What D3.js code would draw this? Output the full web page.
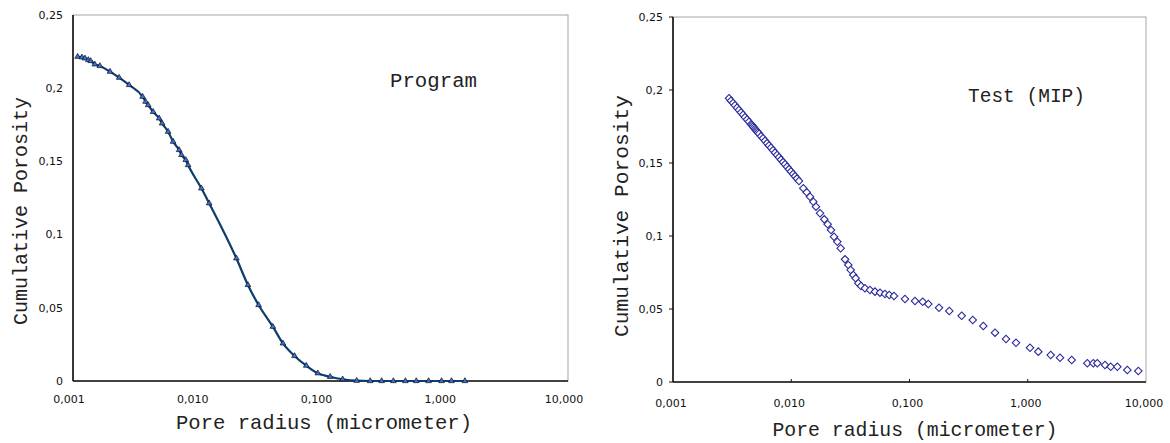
<!DOCTYPE html>
<html>
<head>
<meta charset="utf-8">
<style>
    body { margin: 0; background: #fff; }
    .tick-label { font-family: 'DejaVu Sans', sans-serif; font-size: 11px; fill: #111; }
    .title { font-family: 'Liberation Mono', monospace; fill: #222; }
    .frame { fill: none; stroke: #a6a6a6; stroke-width: 1; }
    .axis-line { stroke: #111; stroke-width: 1.6; }
    .program-line { fill: none; stroke: #0d3d6b; stroke-width: 2.2; }
</style>
</head>
<body>
<svg id="chart" width="1170" height="443"></svg>
<script src="https://cdn.jsdelivr.net/npm/d3@7"></script>
<script>
    // Left panel: "Program" (triangles + line)
    const programRadius = [0.00109, 0.00118, 0.00125, 0.00133, 0.00139, 0.00150, 0.00165, 0.00199, 0.00236,
        0.00284, 0.00365, 0.00386, 0.00405, 0.00444, 0.00497, 0.00525, 0.00587, 0.00644, 0.00720, 0.00753,
        0.00815, 0.00851, 0.0109, 0.0126, 0.0209, 0.0259, 0.0316, 0.0412, 0.0497, 0.0617, 0.0767, 0.0951,
        0.1197, 0.151, 0.196, 0.252, 0.312, 0.388, 0.485, 0.594, 0.747, 0.951, 1.145, 1.469];
    const programPorosity = [0.2215, 0.2211, 0.2204, 0.2193, 0.2186, 0.2163, 0.2152, 0.2113, 0.2072,
        0.2022, 0.1942, 0.1908, 0.1885, 0.1839, 0.1794, 0.1760, 0.1703, 0.1635, 0.1578, 0.1544,
        0.1510, 0.1475, 0.1316, 0.1214, 0.0838, 0.0656, 0.0519, 0.0371, 0.0257, 0.0171, 0.0105, 0.0053,
        0.0029, 0.0012, 0.0002, 0, 0, 0, 0, 0, 0, 0, 0, 0];

    // Right panel: "Test (MIP)" (open diamonds)
    const testRadius = [0.00298, 0.00309, 0.00322, 0.00334, 0.00348, 0.00361, 0.00376, 0.00391, 0.00406,
        0.00423, 0.00439, 0.00457, 0.00466, 0.00475, 0.00484, 0.00494, 0.00503, 0.00513, 0.00523, 0.00534,
        0.00555, 0.00577, 0.00600, 0.00624, 0.00648, 0.00674, 0.00701, 0.00729, 0.00758, 0.00788, 0.00819,
        0.00852, 0.00885, 0.00921, 0.00957, 0.00995, 0.01035, 0.01076, 0.01118, 0.01163,
        0.01264, 0.01351, 0.01441, 0.01537, 0.01619, 0.01751, 0.01903, 0.02033, 0.02169, 0.02299, 0.02452,
        0.02619, 0.02849, 0.03038, 0.03182, 0.03347, 0.03508, 0.0369, 0.03889, 0.04204, 0.04634, 0.05108,
        0.05631, 0.06206, 0.06748, 0.07394, 0.0916, 0.1113, 0.1293, 0.1442, 0.1777, 0.217, 0.2763, 0.3424,
        0.4209, 0.5284, 0.6548, 0.7956, 1.0447, 1.228, 1.564, 1.874, 2.353, 3.189, 3.585, 3.875, 4.501,
        5.029, 5.72, 6.95, 8.61];
    const testPorosity = [0.1943, 0.1927, 0.1911, 0.1895, 0.1879, 0.1863, 0.1846, 0.1830, 0.1814,
        0.1798, 0.1782, 0.1765, 0.1758, 0.1750, 0.1741, 0.1733, 0.1725, 0.1717, 0.1709, 0.1701,
        0.1684, 0.1669, 0.1652, 0.1636, 0.1620, 0.1604, 0.1588, 0.1571, 0.1555, 0.1539, 0.1523,
        0.1506, 0.1491, 0.1474, 0.1458, 0.1442, 0.1425, 0.1410, 0.1393, 0.1377,
        0.1327, 0.1299, 0.1269, 0.1235, 0.1201, 0.1156, 0.1114, 0.1080, 0.1041, 0.0995, 0.0961,
        0.0916, 0.0840, 0.0801, 0.0767, 0.0733, 0.0710, 0.0676, 0.0658, 0.0642, 0.0630, 0.0619,
        0.0612, 0.0603, 0.0596, 0.0589, 0.0569, 0.0555, 0.0550, 0.0534, 0.0509, 0.0486, 0.0454, 0.0425,
        0.0384, 0.0338, 0.0295, 0.0269, 0.0235, 0.0208, 0.0185, 0.0166, 0.0151, 0.0128, 0.0128, 0.0128, 0.0116,
        0.0105, 0.0105, 0.0082, 0.0075];

    const xTicks = [0.001, 0.01, 0.1, 1, 10];
    const xTickLabels = ["0,001", "0,010", "0,100", "1,000", "10,000"];
    const yTicks = [0, 0.05, 0.1, 0.15, 0.2, 0.25];
    const yTickLabels = ["0", "0,05", "0,1", "0,15", "0,2", "0,25"];
    const xTitle = "Pore radius (micrometer)";
    const yTitle = "Cumulative Porosity";

    const svg = d3.select("#chart");

    function drawPanel(p) {
        const x = d3.scaleLog().domain([0.001, 10]).range([p.left, p.right]);
        const y = d3.scaleLinear().domain([0, 0.25]).range([p.bottom, p.top]);
        const g = svg.append("g");

        // frame: grey top/right, dark left/bottom axes
        g.append("rect").attr("class", "frame")
            .attr("x", p.left).attr("y", p.top)
            .attr("width", p.right - p.left).attr("height", p.bottom - p.top);
        g.append("line").attr("class", "axis-line")
            .attr("x1", p.left).attr("x2", p.left).attr("y1", p.top).attr("y2", p.bottom);
        g.append("line").attr("class", "axis-line")
            .attr("x1", p.left).attr("x2", p.right).attr("y1", p.bottom).attr("y2", p.bottom);

        if (p.ticks) {
            g.selectAll(".ytick").data(yTicks).join("line")
                .attr("x1", p.left - 4).attr("x2", p.left)
                .attr("y1", d => y(d)).attr("y2", d => y(d))
                .attr("stroke", "#111");
            g.selectAll(".xtick").data(xTicks.slice(1, -1)).join("line")
                .attr("x1", d => x(d)).attr("x2", d => x(d))
                .attr("y1", p.bottom - 3).attr("y2", p.bottom)
                .attr("stroke", "#111");
        }

        g.selectAll(".ylab").data(yTicks).join("text")
            .attr("class", "tick-label")
            .attr("x", p.left - 10).attr("y", d => y(d))
            .attr("dy", "0.35em").attr("text-anchor", "end")
            .text((d, i) => yTickLabels[i]);

        g.selectAll(".xlab").data(xTicks).join("text")
            .attr("class", "tick-label")
            .attr("x", d => x(d) + p.xLabelShift).attr("y", p.xLabelY)
            .attr("text-anchor", "middle")
            .text((d, i) => xTickLabels[i]);

        g.append("text").attr("class", "title")
            .attr("x", p.xTitleX).attr("y", p.xTitleY)
            .attr("text-anchor", "middle").attr("font-size", 21)
            .attr("textLength", p.xTitleLen).attr("lengthAdjust", "spacingAndGlyphs")
            .text(xTitle);

        g.append("text").attr("class", "title")
            .attr("transform", `translate(${p.yTitleX},${p.yTitleY}) rotate(-90)`)
            .attr("text-anchor", "middle").attr("font-size", 21)
            .attr("textLength", p.yTitleLen).attr("lengthAdjust", "spacingAndGlyphs")
            .text(yTitle);

        g.append("text").attr("class", "title")
            .attr("x", p.labelX).attr("y", p.labelY)
            .attr("font-size", 20)
            .attr("textLength", p.labelLen).attr("lengthAdjust", "spacingAndGlyphs")
            .text(p.label);

        return { g, x, y };
    }

    // Left panel
    const left = drawPanel({
        left: 73, right: 568, top: 15, bottom: 381, ticks: false,
        xLabelY: 403, xLabelShift: -4,
        xTitleX: 324, xTitleY: 429, xTitleLen: 296,
        yTitleX: 27, yTitleY: 211, yTitleLen: 228,
        label: "Program", labelX: 390, labelY: 87, labelLen: 87
    });
    const progData = programRadius.map((r, i) => ({ r, v: programPorosity[i] }));
    const progLine = d3.line()
        .x(d => left.x(d.r))
        .y(d => left.y(d.v))
        .curve(d3.curveMonotoneX);
    left.g.append("path").datum(progData).attr("class", "program-line").attr("d", progLine);
    left.g.selectAll(".tri").data(progData).join("path")
        .attr("transform", d => `translate(${left.x(d.r)},${left.y(d.v)})`)
        .attr("d", d3.symbol(d3.symbolTriangle, 14))
        .attr("fill", "#3b6fe0").attr("stroke", "#111").attr("stroke-width", 0.7);

    // Right panel
    const right = drawPanel({
        left: 673, right: 1146, top: 17, bottom: 382, ticks: true,
        xLabelY: 407, xLabelShift: -2,
        xTitleX: 915, xTitleY: 436, xTitleLen: 285,
        yTitleX: 628, yTitleY: 216, yTitleLen: 242,
        label: "Test (MIP)", labelX: 968, labelY: 102, labelLen: 117
    });
    const testData = testRadius.map((r, i) => ({ r, v: testPorosity[i] }));
    right.g.selectAll(".dia").data(testData).join("path")
        .attr("transform", d => `translate(${right.x(d.r)},${right.y(d.v)}) rotate(45)`)
        .attr("d", d3.symbol(d3.symbolSquare, 28))
        .attr("fill", "#fff").attr("stroke", "#2a2a9c").attr("stroke-width", 1.1);
</script>
</body>
</html>
